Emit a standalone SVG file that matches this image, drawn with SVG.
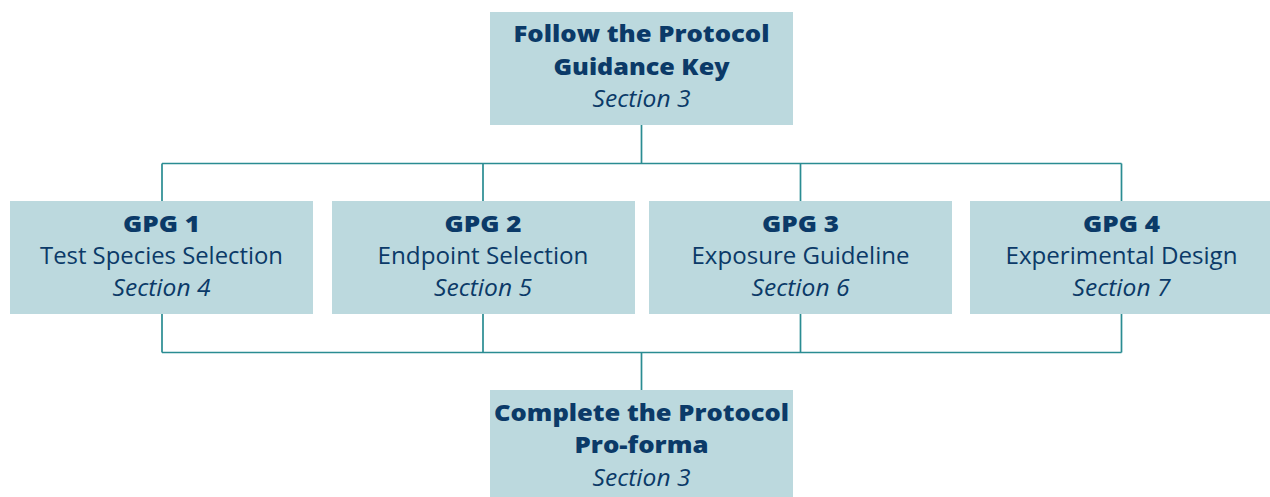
<svg xmlns="http://www.w3.org/2000/svg" width="1270" height="497" viewBox="0 0 1270 497">
  <style>
    .box { fill: #bcd9de; }
    .wire { fill: none; stroke: #2a8c92; stroke-width: 1.7; }
    text { fill: #0b3a68; text-anchor: middle; font-family: "Open Sans", "Noto Sans", "DejaVu Sans", sans-serif; }
    .title { font-size: 23px; font-weight: 800; }
    .label { font-size: 24px; font-weight: 400; }
    .sec { font-size: 23px; font-style: italic; font-weight: 400; }
  </style>
  <rect width="1270" height="497" fill="#ffffff"/>

  <!-- connectors -->
  <g id="connectors">
    <path class="wire" d="M641.5 125 V163.5 M162 163.5 H1121.5 M162 163.5 V201 M483 163.5 V201 M800.5 163.5 V201 M1121.5 163.5 V201"/>
    <path class="wire" d="M162 314 V352.5 M483 314 V352.5 M800.5 314 V352.5 M1121.5 314 V352.5 M162 352.5 H1121.5 M641.5 352.5 V390"/>
  </g>

  <g id="guidance-key">
    <rect class="box" x="490" y="12" width="303" height="113"/>
    <text class="title" x="641.5" y="42" textLength="256" lengthAdjust="spacingAndGlyphs">Follow the Protocol</text>
    <text class="title" x="641.5" y="75" textLength="176" lengthAdjust="spacingAndGlyphs">Guidance Key</text>
    <text class="sec" x="641.5" y="107" textLength="98" lengthAdjust="spacingAndGlyphs">Section 3</text>
  </g>

  <g id="gpg1">
    <rect class="box" x="10" y="201" width="303" height="113"/>
    <text class="title" x="161.5" y="232" textLength="77" lengthAdjust="spacingAndGlyphs">GPG 1</text>
    <text class="label" x="161.5" y="264" textLength="243" lengthAdjust="spacingAndGlyphs">Test Species Selection</text>
    <text class="sec" x="161.5" y="296" textLength="98" lengthAdjust="spacingAndGlyphs">Section 4</text>
  </g>

  <g id="gpg2">
    <rect class="box" x="332" y="201" width="303" height="113"/>
    <text class="title" x="483" y="232" textLength="77" lengthAdjust="spacingAndGlyphs">GPG 2</text>
    <text class="label" x="483" y="264" textLength="211" lengthAdjust="spacingAndGlyphs">Endpoint Selection</text>
    <text class="sec" x="483" y="296" textLength="98" lengthAdjust="spacingAndGlyphs">Section 5</text>
  </g>

  <g id="gpg3">
    <rect class="box" x="649" y="201" width="303" height="113"/>
    <text class="title" x="800.5" y="232" textLength="77" lengthAdjust="spacingAndGlyphs">GPG 3</text>
    <text class="label" x="800.5" y="264" textLength="218" lengthAdjust="spacingAndGlyphs">Exposure Guideline</text>
    <text class="sec" x="800.5" y="296" textLength="98" lengthAdjust="spacingAndGlyphs">Section 6</text>
  </g>

  <g id="gpg4">
    <rect class="box" x="970" y="201" width="303" height="113"/>
    <text class="title" x="1121.5" y="232" textLength="77" lengthAdjust="spacingAndGlyphs">GPG 4</text>
    <text class="label" x="1121.5" y="264" textLength="232" lengthAdjust="spacingAndGlyphs">Experimental Design</text>
    <text class="sec" x="1121.5" y="296" textLength="98" lengthAdjust="spacingAndGlyphs">Section 7</text>
  </g>

  <g id="pro-forma">
    <rect class="box" x="490" y="390" width="303" height="110"/>
    <text class="title" x="641.5" y="421" textLength="295" lengthAdjust="spacingAndGlyphs">Complete the Protocol</text>
    <text class="title" x="641.5" y="453" textLength="134" lengthAdjust="spacingAndGlyphs">Pro-forma</text>
    <text class="sec" x="641.5" y="486" textLength="98" lengthAdjust="spacingAndGlyphs">Section 3</text>
  </g>
</svg>
